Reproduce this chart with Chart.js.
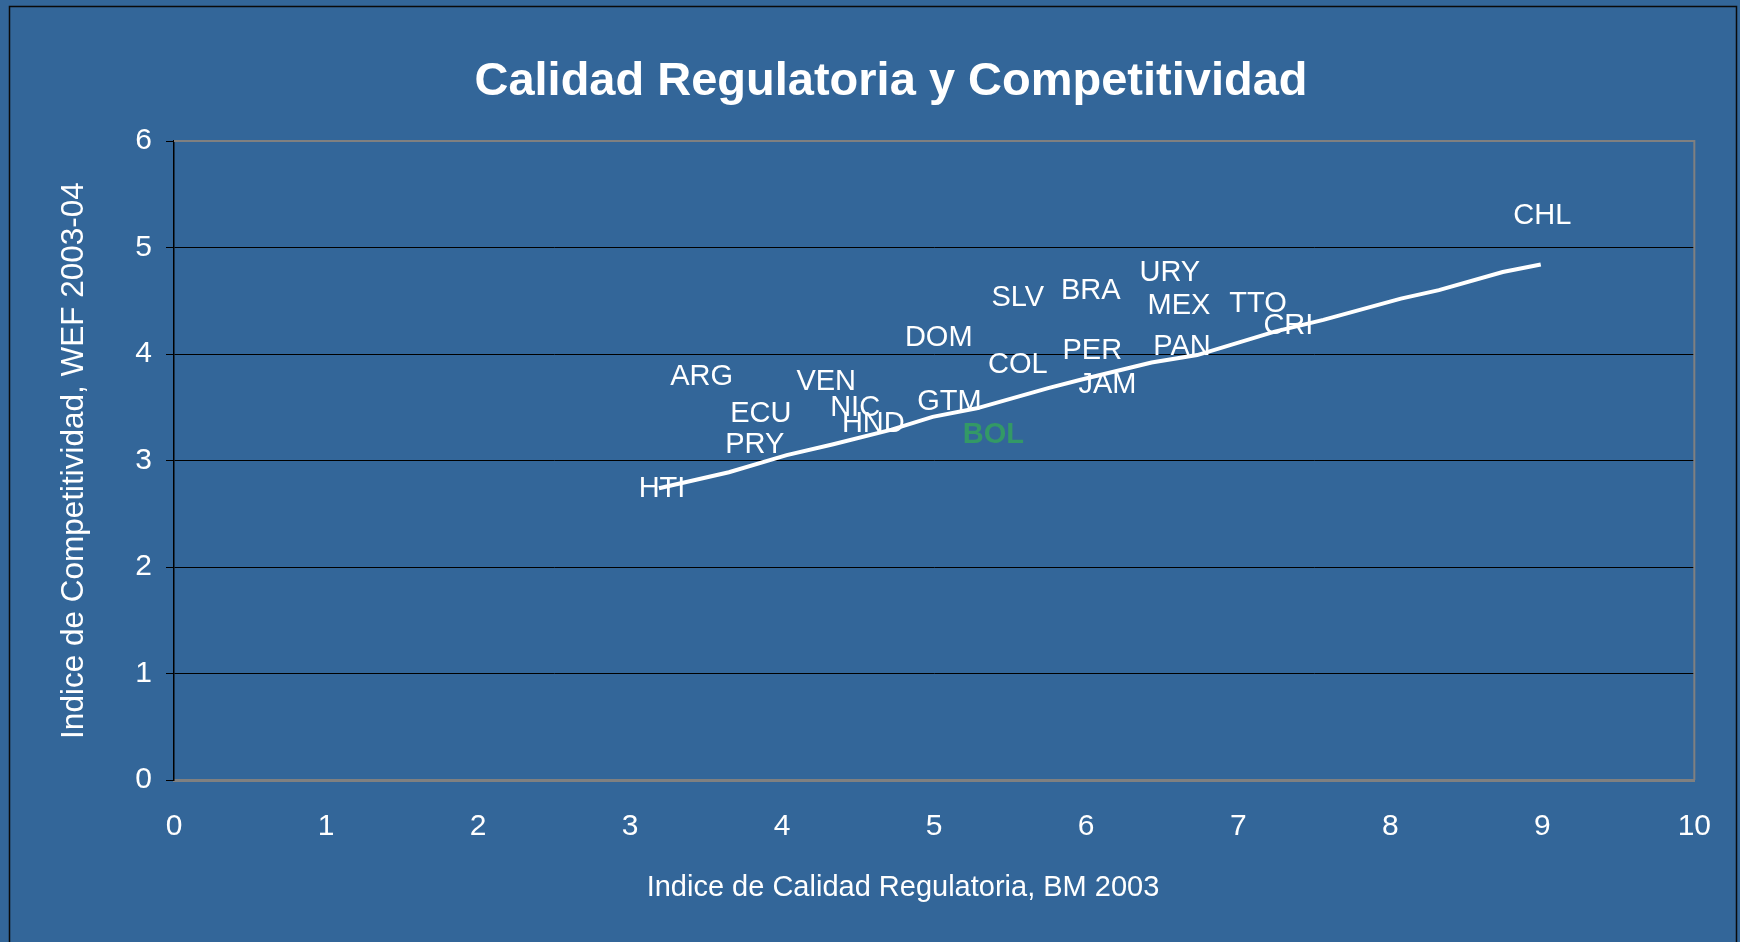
<!DOCTYPE html>
<html>
<head>
<meta charset="utf-8">
<title>Calidad Regulatoria y Competitividad</title>
<script src="https://cdn.jsdelivr.net/npm/chart.js@4.4.1/dist/chart.umd.min.js"></script>
<style>
  html, body { margin: 0; padding: 0; background: #336699; }
  #wrap { width: 1740px; height: 942px; }
</style>
</head>
<body>
<div id="wrap"><canvas id="chart" width="1740" height="942"></canvas></div>
<script>
// Country labels, regulatory quality (x) and competitiveness (y)
const countries = ['CHL', 'URY', 'BRA', 'SLV', 'MEX', 'TTO', 'CRI', 'DOM', 'PER', 'PAN', 'COL', 'JAM',
                   'ARG', 'VEN', 'NIC', 'ECU', 'GTM', 'HND', 'BOL', 'PRY', 'HTI'];
const regQuality = [9.00, 6.55, 6.03, 5.55, 6.61, 7.13, 7.33, 5.03, 6.04, 6.63, 5.55, 6.14,
                    3.47, 4.29, 4.48, 3.86, 5.10, 4.60, 5.39, 3.82, 3.21];
const competitiveness = [5.31, 4.78, 4.61, 4.54, 4.47, 4.49, 4.28, 4.17, 4.05, 4.08, 3.92, 3.73,
                         3.80, 3.76, 3.51, 3.46, 3.57, 3.36, 3.26, 3.16, 2.75];

// Trend line as drawn
const trendX = [3.19, 3.65, 4.03, 4.33, 4.72, 4.99, 5.28, 5.75, 5.97, 6.43, 6.73, 7.24, 7.56, 8.07, 8.32, 8.74, 8.99];
const trendY = [2.74, 2.89, 3.05, 3.15, 3.29, 3.41, 3.49, 3.68, 3.76, 3.92, 3.99, 4.21, 4.32, 4.52, 4.60, 4.77, 4.84];

const highlight = 'BOL';
const chartTitle = 'Calidad Regulatoria y Competitividad';
const xTitle = 'Indice de Calidad Regulatoria, BM 2003';
const yTitle = 'Indice de Competitividad, WEF 2003-04';
const FONT = "'Liberation Sans', Arial, sans-serif";

// background, outer frame, chart title and x axis title
const backdrop = {
    id: 'backdrop',
    beforeDraw(chart) {
        const ctx = chart.ctx;
        ctx.save();
        ctx.fillStyle = '#336699';
        ctx.fillRect(0, 0, chart.width, chart.height);
        ctx.strokeStyle = '#0a0a0a';
        ctx.lineWidth = 1.5;
        ctx.beginPath();
        ctx.moveTo(9.5, chart.height + 5);
        ctx.lineTo(9.5, 6.5);
        ctx.lineTo(1736.5, 6.5);
        ctx.lineTo(1736.5, chart.height + 5);
        ctx.stroke();
        ctx.fillStyle = '#ffffff';
        ctx.textAlign = 'center';
        ctx.textBaseline = 'middle';
        ctx.font = 'bold 47px ' + FONT;
        ctx.fillText(chartTitle, 891, 82);
        ctx.font = '29px ' + FONT;
        ctx.fillText(xTitle, 903, 888);
        ctx.restore();
    },
    beforeDatasetsDraw(chart) {
        // gray top and right edges of the plot area
        const {ctx, chartArea: a} = chart;
        ctx.save();
        ctx.strokeStyle = '#808080';
        ctx.lineWidth = 2;
        ctx.beginPath();
        ctx.moveTo(a.left, a.top);
        ctx.lineTo(a.right, a.top);
        ctx.lineTo(a.right, a.bottom);
        ctx.stroke();
        ctx.restore();
    }
};

// country codes at each point
const countryLabels = {
    id: 'countryLabels',
    afterDatasetsDraw(chart) {
        const ctx = chart.ctx;
        const meta = chart.getDatasetMeta(0);
        ctx.save();
        ctx.textAlign = 'center';
        ctx.textBaseline = 'middle';
        meta.data.forEach((pt, i) => {
            const name = countries[i];
            if (name === highlight) {
                ctx.font = 'bold 29px ' + FONT;
                ctx.fillStyle = '#339966';
            } else {
                ctx.font = '29px ' + FONT;
                ctx.fillStyle = '#ffffff';
            }
            ctx.fillText(name, pt.x, pt.y + 2);
        });
        ctx.restore();
    }
};

new Chart(document.getElementById('chart'), {
    type: 'scatter',
    data: {
        datasets: [{
            label: 'Países',
            data: regQuality.map((x, i) => ({x: x, y: competitiveness[i]})),
            pointRadius: 0,
            pointHoverRadius: 0
        }, {
            label: 'Tendencia',
            data: trendX.map((x, i) => ({x: x, y: trendY[i]})),
            showLine: true,
            borderColor: '#ffffff',
            borderWidth: 4,
            pointRadius: 0,
            tension: 0
        }]
    },
    options: {
        responsive: false,
        animation: false,
        devicePixelRatio: 1,
        layout: { padding: { top: 141, left: 10, right: 44, bottom: 0 } },
        plugins: {
            legend: { display: false },
            title: { display: false },
            tooltip: { enabled: false }
        },
        scales: {
            x: {
                type: 'linear',
                min: 0,
                max: 10,
                ticks: { stepSize: 1, color: '#ffffff', padding: 29, font: { family: FONT, size: 30 } },
                grid: { display: false, drawTicks: false },
                border: { display: true, color: '#808080', width: 3 },
                title: { display: false },
                afterFit(scale) { scale.height = 162; }
            },
            y: {
                min: 0,
                max: 6,
                ticks: { stepSize: 1, color: '#ffffff', padding: 14, font: { family: FONT, size: 30 } },
                grid: {
                    color: ctx => (ctx.tick && ctx.tick.value > 0 && ctx.tick.value < 6) ? '#000000' : 'rgba(0,0,0,0)',
                    tickColor: '#000000',
                    tickLength: 8,
                    lineWidth: 1
                },
                border: { color: '#000000', width: 1.5 },
                title: {
                    display: true,
                    text: yTitle,
                    color: '#ffffff',
                    font: { family: FONT, size: 31.5 },
                    padding: { top: 45, bottom: 0 }
                },
                afterFit(scale) { scale.width = 164; }
            }
        }
    },
    plugins: [backdrop, countryLabels]
});
</script>
</body>
</html>
